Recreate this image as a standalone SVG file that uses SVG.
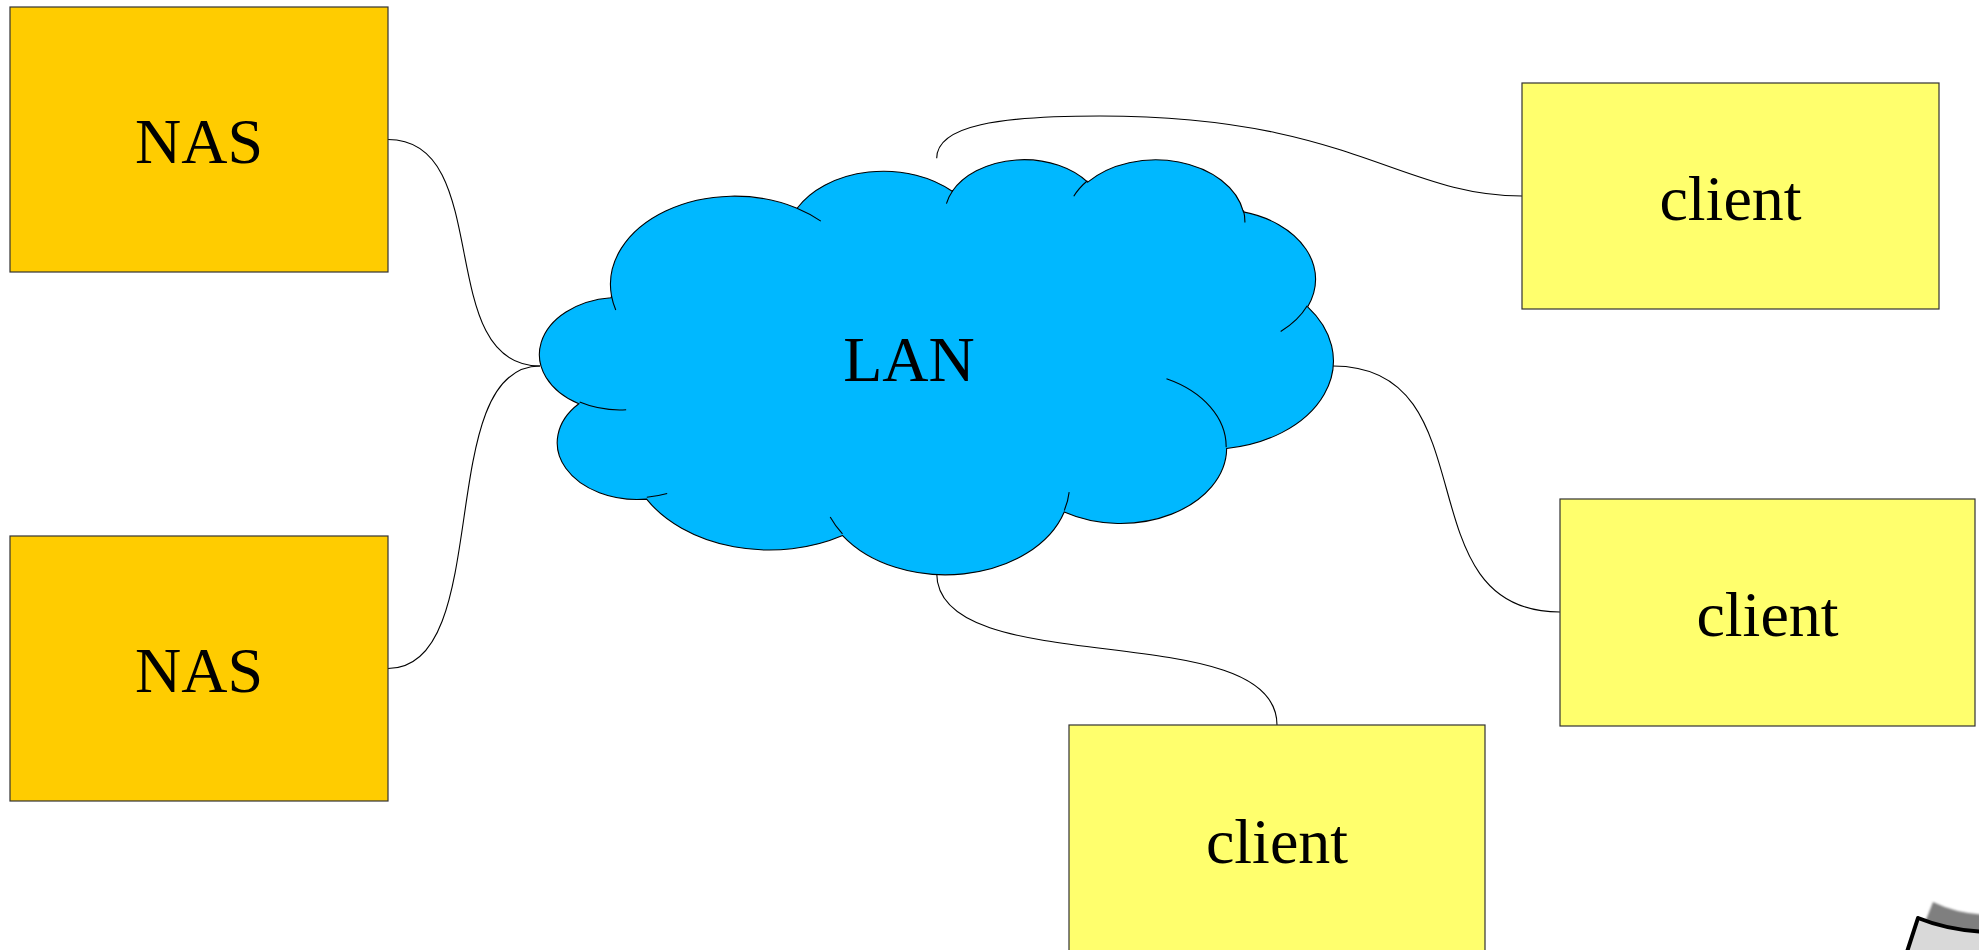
<svg xmlns="http://www.w3.org/2000/svg" width="1979" height="950" viewBox="0 0 1979 950">
  <defs>
    <style>
      .nas { fill: #ffcc00; stroke: #333333; stroke-width: 1.2; }
      .client { fill: #ffff6d; stroke: #333333; stroke-width: 1.2; }
      .cloud { fill: #00b8ff; stroke: #000000; stroke-width: 1.1; }
      .cloud-inner { fill: none; stroke: #000000; stroke-width: 1.1; }
      .conn { fill: none; stroke: #000000; stroke-width: 1.1; }
      .label { font-family: "Liberation Serif", "Times New Roman", serif; font-size: 64px; fill: #000000; text-anchor: middle; }
    </style>
    <filter id="soft" x="-20%" y="-20%" width="140%" height="140%">
      <feGaussianBlur stdDeviation="1.2"/>
    </filter>
  </defs>

  <rect width="1979" height="950" fill="#ffffff"/>

  <!-- connectors -->
  <g id="connectors">
    <path class="conn" d="M388,139.5 C496,139.5 432,366 540,366"/>
    <path class="conn" d="M388,668.5 C496,668.5 432,366 540,366"/>
    <path class="conn" d="M936.7,158.3 C936.7,125 1000,116 1100,116 C1350,116 1400,196 1522,196"/>
    <path class="conn" d="M1333,366 C1492,366 1401,612 1560,612"/>
    <path class="conn" d="M936.7,573.3 C936.7,683 1277,615 1277,725"/>
  </g>

  <!-- network cloud -->
  <g id="lan">
    <path class="cloud" d="M611.59,296.35
      A123.96,88.28 0 0 1 797.09,208.27
      A97.89,69.81 0 0 1 952.24,191.29
      A80.13,57.11 0 0 1 1087.67,182.17
      A89.16,63.35 0 0 1 1243.43,211.91
      A97.89,69.87 0 0 1 1307.68,306.85
      A124.37,88.57 0 0 1 1226.66,448.48
      A106.19,75.57 0 0 1 1064.24,511.99
      A123.94,88.52 0 0 1 842.61,535.56
      A141.71,101.28 0 0 1 646.60,499.12
      A80.03,56.85 0 0 1 578.83,403.80
      A79.76,57.11 0 0 1 610.97,297.72 Z"/>
    <path class="cloud-inner" d="M626.15,409.77 A79.76,57.11 0 0 1 579.63,402.11
      M667.17,493.56 A80.03,56.85 0 0 1 646.82,497.22
      M842.48,533.82 A123.94,88.52 0 0 1 830.19,517.08
      M1069.16,492.13 A123.94,88.52 0 0 1 1064.27,510.48
      M1166.49,378.81 A106.19,75.57 0 0 1 1226.18,447.35
      M1307.27,305.80 A97.89,69.87 0 0 1 1280.68,331.51
      M1243.48,210.42 A89.16,63.35 0 0 1 1244.90,222.56
      M1073.77,196.26 A89.16,63.35 0 0 1 1087.40,180.77
      M946.43,203.64 A80.13,57.11 0 0 1 953.02,190.29
      M796.99,208.18 A123.96,88.28 0 0 1 820.87,221.14
      M615.76,309.98 A123.96,88.28 0 0 1 611.60,296.36"/>
    <text class="label" x="909" y="381">LAN</text>
  </g>

  <!-- storage -->
  <g id="nas-1">
    <rect class="nas" x="10" y="7" width="378" height="265"/>
    <text class="label" x="199" y="163">NAS</text>
  </g>
  <g id="nas-2">
    <rect class="nas" x="10" y="536" width="378" height="265"/>
    <text class="label" x="199" y="692">NAS</text>
  </g>

  <!-- clients -->
  <g id="client-1">
    <rect class="client" x="1522" y="83" width="417" height="226"/>
    <text class="label" x="1730.5" y="220">client</text>
  </g>
  <g id="client-2">
    <rect class="client" x="1560" y="499" width="415" height="227"/>
    <text class="label" x="1767.5" y="636">client</text>
  </g>
  <g id="client-3">
    <rect class="client" x="1069" y="725" width="416" height="240"/>
    <text class="label" x="1277" y="863">client</text>
  </g>

  <!-- partly visible icon at the bottom-right edge -->
  <g id="corner-icon">
    <path d="M1933,902 Q1955,913 1985,915 L1985,940 L1922,930 Z" fill="#7f7f7f" filter="url(#soft)"/>
    <path d="M1905,958 L1918,918 Q1950,931 1990,932 L1990,960 Z" fill="#d9d9d9" stroke="#000000" stroke-width="4" stroke-linejoin="round"/>
  </g>
</svg>
